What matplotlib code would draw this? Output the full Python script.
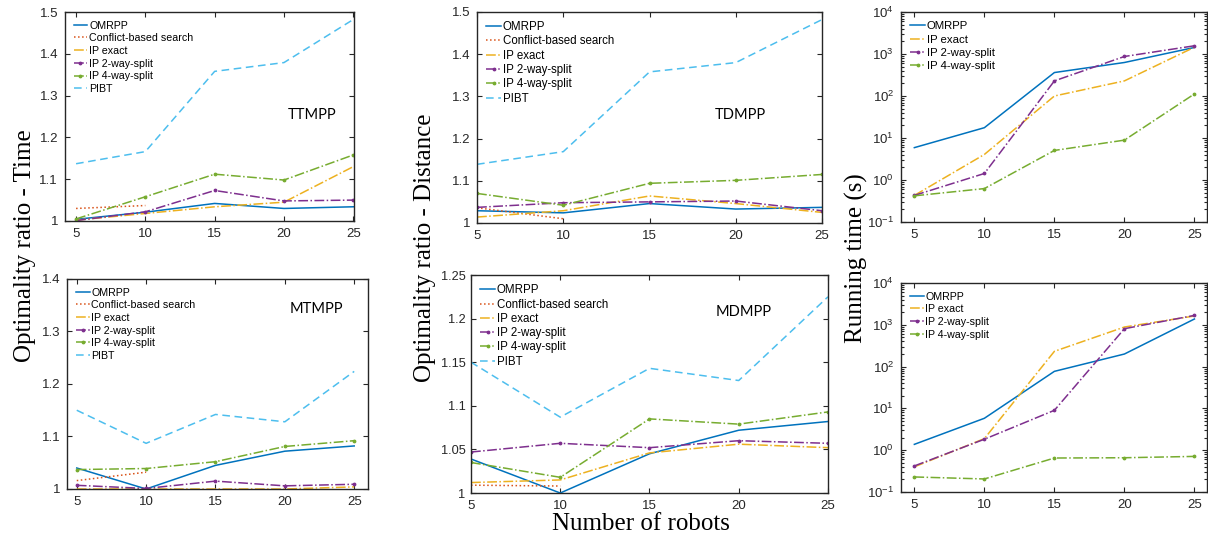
import matplotlib
matplotlib.use("Agg")
import matplotlib.pyplot as plt
import numpy as np
from matplotlib.ticker import FixedLocator, FuncFormatter, LogLocator, NullFormatter

robots = [5, 10, 15, 20, 25]

# TTMPP - optimality ratio (time)
tt_omrpp = [1.004, 1.021, 1.042, 1.030, 1.034]
tt_cbs = [1.030, 1.037]
tt_ip_exact = [1.002, 1.018, 1.034, 1.045, 1.130]
tt_ip_2way = [1.001, 1.022, 1.073, 1.048, 1.050]
tt_ip_4way = [1.005, 1.058, 1.112, 1.098, 1.158]
tt_pibt = [1.137, 1.166, 1.358, 1.379, 1.482]

# TDMPP - optimality ratio (distance)
td_omrpp = [1.029, 1.024, 1.046, 1.033, 1.037]
td_cbs = [1.036, 1.010]
td_ip_exact = [1.014, 1.029, 1.064, 1.046, 1.025]
td_ip_2way = [1.037, 1.048, 1.050, 1.052, 1.029]
td_ip_4way = [1.070, 1.042, 1.094, 1.101, 1.115]
td_pibt = [1.139, 1.169, 1.358, 1.380, 1.482]

# running time, top row (s)
rt_top_omrpp = [5.9, 17.6, 362, 628, 1432]
rt_top_ip_exact = [0.43, 4.06, 100, 229, 1450]
rt_top_ip_2way = [0.43, 1.43, 229, 873, 1570]
rt_top_ip_4way = [0.42, 0.625, 5.06, 8.9, 112]

# MTMPP - optimality ratio (time)
mt_omrpp = [1.040, 1.000, 1.045, 1.072, 1.082]
mt_cbs = [1.016, 1.032]
mt_ip_exact = [1.000, 1.000, 1.000, 1.000, 1.004]
mt_ip_2way = [1.007, 1.001, 1.015, 1.006, 1.009]
mt_ip_4way = [1.037, 1.039, 1.052, 1.081, 1.092]
mt_pibt = [1.150, 1.087, 1.142, 1.128, 1.224]

# MDMPP - optimality ratio (distance)
md_omrpp = [1.039, 1.000, 1.045, 1.072, 1.082]
md_cbs = [1.009, 1.008]
md_ip_exact = [1.012, 1.015, 1.046, 1.056, 1.052]
md_ip_2way = [1.047, 1.057, 1.052, 1.060, 1.057]
md_ip_4way = [1.035, 1.018, 1.085, 1.079, 1.093]
md_pibt = [1.150, 1.087, 1.143, 1.129, 1.225]

# running time, bottom row (s)
rt_bot_omrpp = [1.38, 5.8, 77, 200, 1377]
rt_bot_ip_exact = [0.40, 1.89, 232, 885, 1625]
rt_bot_ip_2way = [0.42, 1.83, 9.0, 807, 1680]
rt_bot_ip_4way = [0.229, 0.205, 0.65, 0.66, 0.71]

nombres = ["OMRPP", "Conflict-based search", "IP exact", "IP 2-way-split", "IP 4-way-split", "PIBT"]
colores = ["#0072BD", "#D95319", "#EDB120", "#7E2F8E", "#77AC30", "#4DBEEE"]
estilos = ["-", ":", "-.", "-.", "-.", (0, (5, 3))]
marcas = ["", "", "", ".", ".", ""]

gris = "#262626"
plt.rcParams["font.family"] = ["Liberation Sans", "DejaVu Sans"]
plt.rcParams["mathtext.default"] = "regular"

fig = plt.figure(figsize=(12.08, 5.36), dpi=100)


def ejes(rect, xlim, ylim, log=False):
    ax = fig.add_axes(rect)
    ax.set_xlim(*xlim)
    ax.set_ylim(*ylim)
    if log:
        ax.set_yscale("log")
        ax.yaxis.set_major_locator(LogLocator(base=10, numticks=10))
        ax.yaxis.set_minor_locator(LogLocator(base=10, subs=np.arange(2, 10), numticks=20))
        ax.yaxis.set_minor_formatter(NullFormatter())
    ax.xaxis.set_major_locator(FixedLocator(robots))
    ax.tick_params(which="both", direction="in", top=True, right=True, colors=gris,
                   labelsize=9.5, length=3.5, width=0.8, pad=5)
    ax.tick_params(which="minor", length=2)
    for s in ax.spines.values():
        s.set_color(gris)
        s.set_linewidth(1.0)
    return ax


def curvas(ax, series, idx):
    for serie, i in zip(series, idx):
        ax.plot(robots[:len(serie)], serie, color=colores[i], linestyle=estilos[i],
                marker=marcas[i], markersize=3.5, linewidth=1.1, label=nombres[i])


def leyenda(ax, fs, sp):
    ax.legend(loc="upper left", frameon=False, fontsize=fs, handlelength=1.3,
              handletextpad=0.15, labelspacing=sp, borderaxespad=0.5, borderpad=0.3,
              numpoints=1)


def fmt_g(v, pos):
    return "%g" % round(v, 3)


# fila de arriba
ax1 = ejes([0.0538, 0.5877, 0.2392, 0.3899], (4.2, 25.05), (1, 1.5))
curvas(ax1, [tt_omrpp, tt_cbs, tt_ip_exact, tt_ip_2way, tt_ip_4way, tt_pibt], range(6))
ax1.yaxis.set_major_locator(FixedLocator([1, 1.1, 1.2, 1.3, 1.4, 1.5]))
ax1.yaxis.set_major_formatter(FuncFormatter(fmt_g))
leyenda(ax1, 7.7, 0.25)
ax1.text(0.855, 0.507, "TTMPP", transform=ax1.transAxes, ha="center", va="center",
         fontsize=10.5, family="Lato", color="black")

ax2 = ejes([0.3949, 0.5840, 0.2856, 0.3937], (5, 25), (1, 1.5))
curvas(ax2, [td_omrpp, td_cbs, td_ip_exact, td_ip_2way, td_ip_4way, td_pibt], range(6))
ax2.yaxis.set_major_locator(FixedLocator([1, 1.1, 1.2, 1.3, 1.4, 1.5]))
ax2.yaxis.set_major_formatter(FuncFormatter(fmt_g))
leyenda(ax2, 8.3, 0.2)
ax2.text(0.762, 0.512, "TDMPP", transform=ax2.transAxes, ha="center", va="center",
         fontsize=10.5, family="Lato", color="black")

ax3 = ejes([0.7459, 0.5858, 0.2533, 0.3918], (4.05, 25.9), (0.1, 1e4), log=True)
curvas(ax3, [rt_top_omrpp, rt_top_ip_exact, rt_top_ip_2way, rt_top_ip_4way], [0, 2, 3, 4])
leyenda(ax3, 8.2, 0.3)

# fila de abajo
ax4 = ejes([0.0555, 0.0877, 0.2492, 0.3918], (4.3, 26), (1, 1.4))
curvas(ax4, [mt_omrpp, mt_cbs, mt_ip_exact, mt_ip_2way, mt_ip_4way, mt_pibt], range(6))
ax4.yaxis.set_major_locator(FixedLocator([1, 1.1, 1.2, 1.3, 1.4]))
ax4.yaxis.set_major_formatter(FuncFormatter(fmt_g))
leyenda(ax4, 7.7, 0.25)
ax4.text(0.827, 0.857, "MTMPP", transform=ax4.transAxes, ha="center", va="center",
         fontsize=10.5, family="Lato", color="black")

ax5 = ejes([0.3899, 0.0802, 0.2955, 0.4067], (5, 25), (1, 1.25))
curvas(ax5, [md_omrpp, md_cbs, md_ip_exact, md_ip_2way, md_ip_4way, md_pibt], range(6))
ax5.yaxis.set_major_locator(FixedLocator([1, 1.05, 1.1, 1.15, 1.2, 1.25]))
ax5.yaxis.set_major_formatter(FuncFormatter(fmt_g))
ax5.tick_params(axis="y", labelsize=9.2, pad=4)
leyenda(ax5, 8.3, 0.2)
ax5.text(0.765, 0.83, "MDMPP", transform=ax5.transAxes, ha="center", va="center",
         fontsize=10.5, family="Lato", color="black")

ax6 = ejes([0.7459, 0.0821, 0.2533, 0.3899], (4.05, 25.9), (0.1, 1e4), log=True)
curvas(ax6, [rt_bot_omrpp, rt_bot_ip_exact, rt_bot_ip_2way, rt_bot_ip_4way], [0, 2, 3, 4])
leyenda(ax6, 7.7, 0.25)

# etiquetas comunes
serif = ["Liberation Serif", "DejaVu Serif"]
fig.text(25 / 1208, 1 - 246 / 536, "Optimality ratio - Time", rotation=90, ha="center",
         va="center", fontsize=18, family=serif)
fig.text(425 / 1208, 1 - 248 / 536, "Optimality ratio - Distance", rotation=90, ha="center",
         va="center", fontsize=18, family=serif)
fig.text(856 / 1208, 1 - 258 / 536, "Running time (s)", rotation=90, ha="center",
         va="center", fontsize=18, family=serif)
fig.text(641 / 1208, 1 - 524 / 536, "Number of robots", ha="center", va="center",
         fontsize=18, family=serif)

fig.savefig("out.png", dpi=100)
